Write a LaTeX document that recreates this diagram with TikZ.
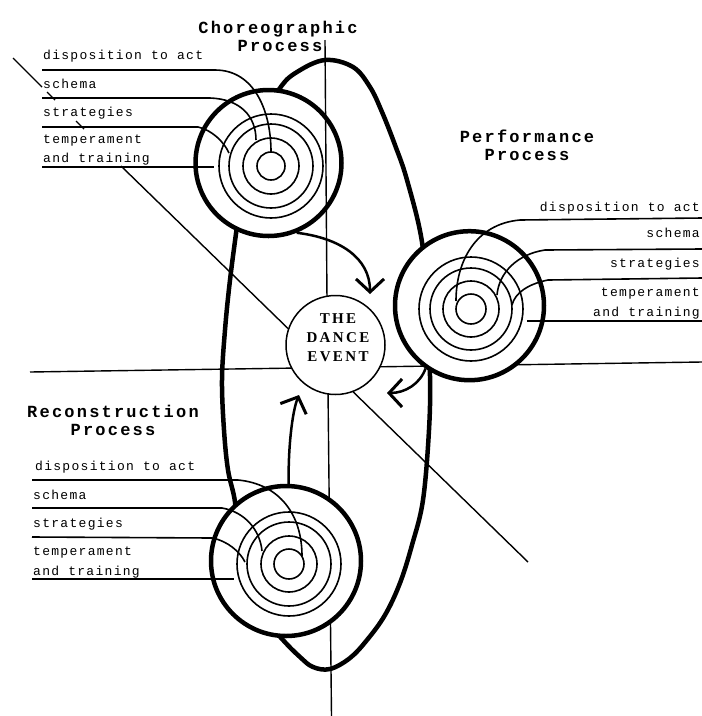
\documentclass[tikz,border=0pt]{standalone}
\usepackage{fontspec}
\setmainfont{Liberation Serif}
\newfontfamily\titlefont[LetterSpace=13]{Liberation Mono}
\newfontfamily\labfont[LetterSpace=10]{Liberation Mono}
\newfontfamily\dancefont[LetterSpace=16]{Liberation Serif}
\usetikzlibrary{arrows.meta}
\tikzset{
  thinl/.style={line width=1.4pt},
  ring/.style={line width=1.6pt},
  bigc/.style={circle, draw, line width=4.5pt, fill=white, inner sep=0pt},
  ttl/.style={font=\titlefont\bfseries\fontsize{17}{18}\selectfont, inner sep=0pt, anchor=base},
  lab/.style={font=\labfont\fontsize{13}{14}\selectfont, inner sep=0pt},
  arr/.style={line width=2.5pt, -{Straight Barb[length=13pt,width=28pt,line width=3pt]}},
}
\begin{document}
\begin{tikzpicture}[x=1pt,y=-1pt]
\useasboundingbox (0,0) rectangle (702,716);
% big oval
\draw[line width=4.5pt] plot[smooth cycle, tension=0.6] coordinates {
(325,60) (353,67) (370,87) (382,112) (395,145) (407,180) (422,242) (427,310)
(430,376) (429,430) (423,500) (412,545) (400,583) (385,615) (367,640) (350,658)
(330,669) (313,667) (300,657) (283,640) (262,615) (245,580) (237,540) (235,502)
(228,470) (224,430) (222,380) (225,330) (230,280) (237,226) (243,180) (255,130)
(280,88) (297,72)};
% axes
\draw[thinl] (30,372) -- (702,362);
\draw[thinl] (13,58) -- (42,87);
\draw[thinl] (47,92) -- (55,100);
\draw[thinl] (76,121) -- (84,129);
\draw[thinl] (121,166) -- (528,562);
\draw[thinl] (328,390) -- (331.5,716);
% process circles
\node[bigc, minimum size=149pt] (perf) at (469.5,305.7) {};
\node[bigc, minimum size=150pt] (recon) at (286,561) {};
\node[bigc, minimum size=146pt] (choreo) at (268.5,163) {};
\draw[thinl] (325,40) -- (327,300);
\node[circle, draw, line width=1.5pt, fill=white, minimum size=99pt, inner sep=0pt] (dance) at (335.5,345) {};
\node[font=\dancefont\bfseries\fontsize{15}{19}\selectfont, align=center, inner sep=0pt] (dtext) at (338,338) {THE\\DANCE\\EVENT};
% rings
\coordinate (cc) at (271,166);
\coordinate (pc) at (471,309);
\coordinate (rc) at (289,564);
\foreach \r in {14,28,42,52} {\draw[ring] (cc) circle[radius=\r pt];}
\foreach \r in {15,28,41,52} {\draw[ring] (pc) circle[radius=\r pt];}
\foreach \r in {15,28,42,52} {\draw[ring] (rc) circle[radius=\r pt];}
% choreographic label lines
\draw[ring] (42,70) -- (215,70) .. controls (255,70) and (271,112) .. (271,152);
\draw[ring] (42,98) -- (210,98) .. controls (240,99) and (256,116) .. (256,140);
\draw[ring] (42,127) -- (198,127) .. controls (212,130) and (224,142) .. (229,153);
\draw[ring] (42,167) -- (214,167);
% performance label lines
\draw[ring] (702,218) -- (520,220) .. controls (475,224) and (456,262) .. (456,301);
\draw[ring] (702,249) -- (545,250) .. controls (518,254) and (499,272) .. (497,295);
\draw[ring] (702,278) -- (548,280) .. controls (528,284) and (515,293) .. (512,305);
\draw[ring] (702,321) -- (527,321);
% reconstruction label lines
\draw[ring] (32,480) -- (238,480) .. controls (280,484) and (302,515) .. (302,556);
\draw[ring] (32,508) -- (222,508) .. controls (245,512) and (260,530) .. (262,551);
\draw[ring] (32,537) -- (212,538) .. controls (228,541) and (240,552) .. (245,562);
\draw[ring] (32,579) -- (234,579);
% titles
\node[ttl] (t1a) at (278,33) {Choreographic};
\node[ttl] (t1b) at (280,51) {Process};
\node[ttl] (t2a) at (527,142) {Performance};
\node[ttl] (t2b) at (527,160) {Process};
\node[ttl] (t3a) at (113,417) {Reconstruction};
\node[ttl] (t3b) at (113,435) {Process};
% labels
\node[lab, anchor=base west] (c1) at (43,59) {disposition to act};
\node[lab, anchor=base west] (c2) at (43,88) {schema};
\node[lab, anchor=base west] (c3) at (43,116) {strategies};
\node[lab, anchor=base west] (c4) at (43,143) {temperament};
\node[lab, anchor=base west] (c5) at (43,162) {and training};
\node[lab, anchor=base east] (p1) at (700,211) {disposition to act};
\node[lab, anchor=base east] (p2) at (700,237) {schema};
\node[lab, anchor=base east] (p3) at (700,267) {strategies};
\node[lab, anchor=base east] (p4) at (700,296) {temperament};
\node[lab, anchor=base east] (p5) at (700,316) {and training};
\node[lab, anchor=base west] (r1) at (35,470) {disposition to act};
\node[lab, anchor=base west] (r2) at (33,499) {schema};
\node[lab, anchor=base west] (r3) at (33,527) {strategies};
\node[lab, anchor=base west] (r4) at (33,555) {temperament};
\node[lab, anchor=base west] (r5) at (33,575) {and training};
% arrows
\coordinate (tipC) at (370,294);
\coordinate (tipP) at (387,393);
\coordinate (tipR) at (299,395);
\draw[arr] (choreo.-68) .. controls (340,238) and (370,258) .. (tipC);
\draw[arr] (perf.235) .. controls (420,384) and (405,393) .. (tipP);
\draw[arr] (recon.88) .. controls (288,450) and (292,412) .. (tipR);
\end{tikzpicture}
\end{document}
